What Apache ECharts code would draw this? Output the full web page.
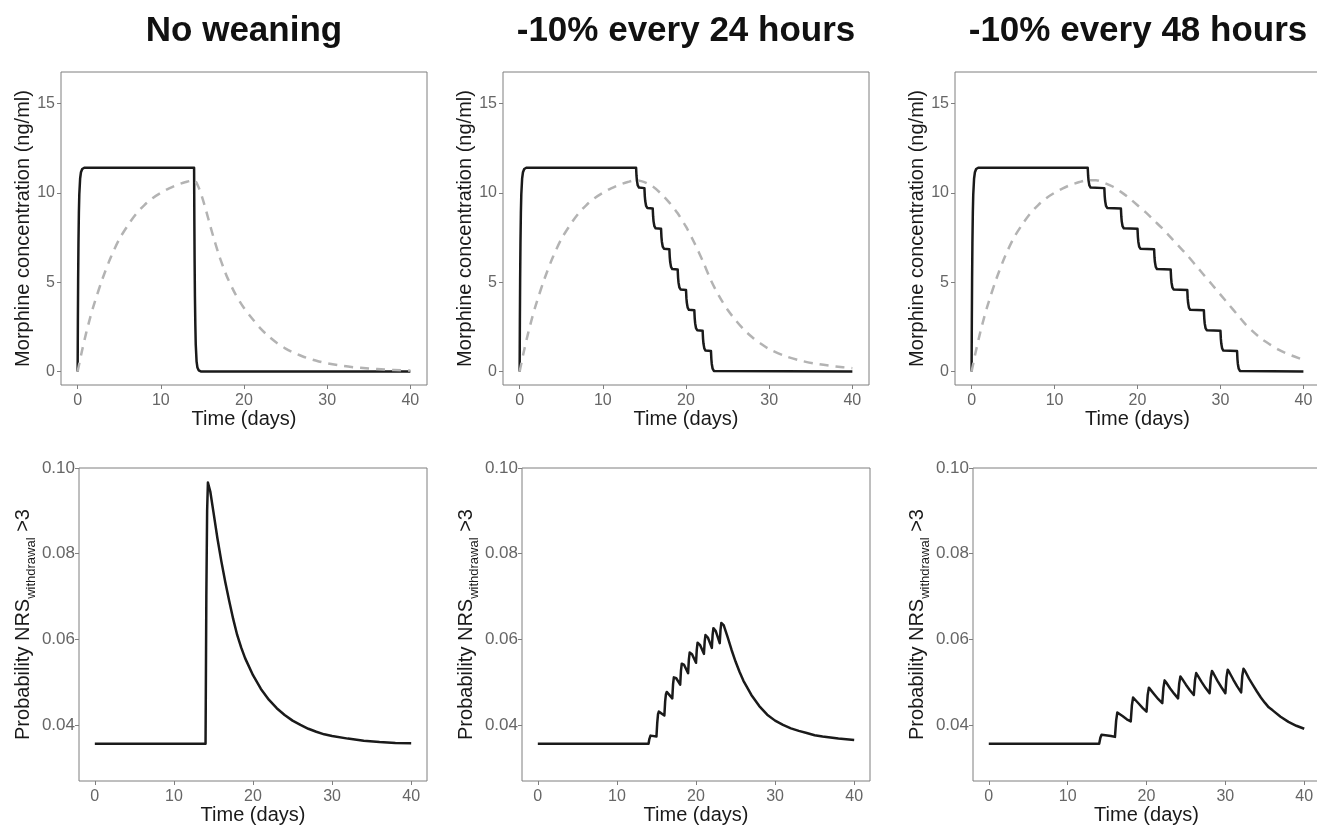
<!DOCTYPE html>
<html>
<head>
<meta charset="utf-8">
<title>Morphine weaning</title>
<script src="https://cdn.jsdelivr.net/npm/echarts@6/dist/echarts.min.js"></script>
<style>
  html, body { margin: 0; padding: 0; background: #fff; }
  #chart { width: 1317px; height: 828px; }
</style>
</head>
<body>
<div id="chart"></div>
<script>
var titles = ['No weaning', '-10% every 24 hours', '-10% every 48 hours'];
var xTicks = [0, 10, 20, 30, 40];
var concTicks = [0, 5, 10, 15];
var probTicks = [0.04, 0.06, 0.08, 0.10];

// plasma concentration (solid), same start for all three
var plasmaRise = [[0, 0], [0.03, 2.9], [0.06, 5.1], [0.1, 7.2], [0.15, 8.9], [0.2, 9.9], [0.3, 10.8],
  [0.4, 11.15], [0.55, 11.33], [0.8, 11.4], [14, 11.4]];
var plasmaNoWean = [[14.03, 8.5], [14.06, 6.3], [14.1, 4.2], [14.15, 2.6], [14.2, 1.5], [14.3, 0.55],
  [14.4, 0.22], [14.55, 0.06], [14.8, 0], [40, 0]];
var plasma24h = [
  [14.05, 10.94], [14.1, 10.68], [14.2, 10.41], [14.35, 10.29], [14.55, 10.26], [15, 10.26],
  [15.05, 9.80], [15.1, 9.54], [15.2, 9.27], [15.35, 9.15], [15.55, 9.12], [16, 9.12],
  [16.05, 8.66], [16.1, 8.40], [16.2, 8.13], [16.35, 8.01], [16.55, 7.98], [17, 7.98],
  [17.05, 7.52], [17.1, 7.26], [17.2, 6.99], [17.35, 6.87], [17.55, 6.84], [18, 6.84],
  [18.05, 6.38], [18.1, 6.12], [18.2, 5.85], [18.35, 5.73], [18.55, 5.70], [19, 5.70],
  [19.05, 5.24], [19.1, 4.98], [19.2, 4.71], [19.35, 4.59], [19.55, 4.56], [20, 4.56],
  [20.05, 4.10], [20.1, 3.84], [20.2, 3.57], [20.35, 3.45], [20.55, 3.42], [21, 3.42],
  [21.05, 2.96], [21.1, 2.70], [21.2, 2.43], [21.35, 2.31], [21.55, 2.28], [22, 2.28],
  [22.05, 1.82], [22.1, 1.56], [22.2, 1.29], [22.35, 1.17], [22.55, 1.14], [23, 1.14],
  [23.05, 0.68], [23.1, 0.42], [23.2, 0.15], [23.35, 0.03], [23.55, 0], [40, 0]];
var plasma48h = [
  [14.05, 10.94], [14.1, 10.68], [14.2, 10.41], [14.35, 10.29], [14.55, 10.26], [16, 10.26],
  [16.05, 9.80], [16.1, 9.54], [16.2, 9.27], [16.35, 9.15], [16.55, 9.12], [18, 9.12],
  [18.05, 8.66], [18.1, 8.40], [18.2, 8.13], [18.35, 8.01], [18.55, 7.98], [20, 7.98],
  [20.05, 7.52], [20.1, 7.26], [20.2, 6.99], [20.35, 6.87], [20.55, 6.84], [22, 6.84],
  [22.05, 6.38], [22.1, 6.12], [22.2, 5.85], [22.35, 5.73], [22.55, 5.70], [24, 5.70],
  [24.05, 5.24], [24.1, 4.98], [24.2, 4.71], [24.35, 4.59], [24.55, 4.56], [26, 4.56],
  [26.05, 4.10], [26.1, 3.84], [26.2, 3.57], [26.35, 3.45], [26.55, 3.42], [28, 3.42],
  [28.05, 2.96], [28.1, 2.70], [28.2, 2.43], [28.35, 2.31], [28.55, 2.28], [30, 2.28],
  [30.05, 1.82], [30.1, 1.56], [30.2, 1.29], [30.35, 1.17], [30.55, 1.14], [32, 1.14],
  [32.05, 0.68], [32.1, 0.42], [32.2, 0.15], [32.35, 0.03], [32.55, 0], [40, 0]];

// effect-site concentration (dashed grey)
var effectRise = [[0, 0], [0.5, 1.1], [1, 2.1], [1.5, 3.0], [2, 3.8], [3, 5.2], [4, 6.4], [5, 7.4],
  [6, 8.15], [7, 8.8], [8, 9.3], [9, 9.7], [10, 10.0], [11, 10.25], [12, 10.45], [13, 10.6], [14, 10.7]];
var effectNoWean = [[14.5, 10.35], [15, 9.7], [15.5, 8.9], [16, 8.05], [16.5, 7.25], [17, 6.5],
  [17.5, 5.85], [18, 5.25], [19, 4.3], [20, 3.55], [21, 2.95], [22, 2.4], [23, 1.95], [24, 1.58],
  [25, 1.28], [26, 1.04], [27, 0.85], [28, 0.69], [29, 0.56], [30, 0.45], [32, 0.3], [34, 0.2],
  [36, 0.13], [38, 0.08], [40, 0.05]];
var effect24h = [[15, 10.6], [16, 10.35], [17, 9.95], [18, 9.45], [19, 8.85], [20, 8.1], [21, 7.2],
  [22, 6.2], [23, 5.1], [24, 4.2], [25, 3.45], [26, 2.85], [27, 2.32], [28, 1.9], [29, 1.55],
  [30, 1.25], [32, 0.85], [34, 0.58], [36, 0.4], [38, 0.28], [40, 0.18]];
var effect48h = [[15, 10.7], [16, 10.55], [17, 10.35], [18, 10.05], [19, 9.7], [20, 9.3], [21, 8.9],
  [22, 8.45], [23, 8.0], [24, 7.5], [25, 7.0], [26, 6.5], [27, 5.95], [28, 5.4], [29, 4.85],
  [30, 4.3], [31, 3.75], [32, 3.2], [33, 2.65], [34, 2.2], [35, 1.8], [36, 1.5], [37, 1.22],
  [38, 1.0], [39, 0.82], [40, 0.65]];

// probability NRS withdrawal > 3
var probNoWean = [[0, 0.0356], [14, 0.0356], [14.1, 0.070], [14.2, 0.090], [14.3, 0.0966],
  [14.4, 0.0962], [14.6, 0.0945], [15, 0.0897], [15.5, 0.0836], [16, 0.0782], [16.5, 0.0733],
  [17, 0.0689], [17.5, 0.0647], [18, 0.0610], [18.5, 0.0581], [19, 0.0556], [20, 0.0516],
  [21, 0.0484], [22, 0.0459], [23, 0.0439], [24, 0.0423], [25, 0.0410], [26, 0.0400],
  [27, 0.0391], [28, 0.0384], [29, 0.0378], [30, 0.0374], [32, 0.0368], [34, 0.0363],
  [36, 0.0360], [38, 0.0358], [40, 0.0357]];
var prob24h = [[0, 0.0356], [14, 0.0356],
  [14.1, 0.0367], [14.25, 0.0375], [14.5, 0.0375], [15, 0.0373],
  [15.1, 0.0405], [15.2, 0.0425], [15.3, 0.0431], [15.5, 0.0429], [16, 0.0422],
  [16.1, 0.0455], [16.2, 0.0472], [16.3, 0.0477], [16.5, 0.0473], [17, 0.0462],
  [17.1, 0.0495], [17.2, 0.0511], [17.3, 0.0515], [17.5, 0.0509], [18, 0.0494],
  [18.1, 0.0527], [18.2, 0.0543], [18.3, 0.0547], [18.5, 0.0540], [19, 0.0521],
  [19.1, 0.0553], [19.2, 0.0569], [19.3, 0.0573], [19.5, 0.0565], [20, 0.0545],
  [20.1, 0.0576], [20.2, 0.0592], [20.3, 0.0596], [20.5, 0.0587], [21, 0.0566],
  [21.1, 0.0595], [21.2, 0.0610], [21.3, 0.0614], [21.5, 0.0604], [22, 0.0580],
  [22.1, 0.0610], [22.2, 0.0626], [22.3, 0.0630], [22.5, 0.0619], [23, 0.0591],
  [23.1, 0.0622], [23.2, 0.0638], [23.3, 0.0642], [23.5, 0.0633], [24, 0.0605], [24.5, 0.0575],
  [25, 0.0548], [25.5, 0.0524], [26, 0.0503], [27, 0.0470], [28, 0.0444], [29, 0.0424],
  [30, 0.0410], [31, 0.0400], [32, 0.0392], [33, 0.0386], [34, 0.0381], [35, 0.0376],
  [36, 0.0373], [38, 0.0368], [40, 0.0365]];
var prob48h = [[0, 0.0356], [14, 0.0356],
  [14.15, 0.0370], [14.3, 0.0377], [14.8, 0.0376], [15.5, 0.0374], [16, 0.0372],
  [16.15, 0.0410], [16.3, 0.0429], [16.5, 0.0427], [17, 0.0420], [17.5, 0.0413], [18, 0.0408],
  [18.15, 0.0446], [18.3, 0.0464], [18.5, 0.0461], [19, 0.0450], [19.5, 0.0440], [20, 0.0431],
  [20.15, 0.0470], [20.3, 0.0487], [20.5, 0.0483], [21, 0.0471], [21.5, 0.0460], [22, 0.0451],
  [22.15, 0.0487], [22.3, 0.0504], [22.5, 0.0499], [23, 0.0485], [23.5, 0.0473], [24, 0.0462],
  [24.15, 0.0497], [24.3, 0.0513], [24.5, 0.0508], [25, 0.0494], [25.5, 0.0481], [26, 0.0470],
  [26.15, 0.0505], [26.3, 0.0521], [26.5, 0.0515], [27, 0.0500], [27.5, 0.0486], [28, 0.0474],
  [28.15, 0.0510], [28.3, 0.0526], [28.5, 0.0520], [29, 0.0503], [29.5, 0.0488], [30, 0.0474],
  [30.15, 0.0512], [30.3, 0.0529], [30.5, 0.0523], [31, 0.0506], [31.5, 0.0490], [32, 0.0476],
  [32.15, 0.0515], [32.3, 0.0531], [32.5, 0.0526], [33, 0.0508], [33.5, 0.0493], [34, 0.0478],
  [34.5, 0.0464], [35, 0.0452], [35.5, 0.0441], [36, 0.0434], [37, 0.0419], [38, 0.0407],
  [39, 0.0398], [40, 0.0391]];

var FONT = 'Liberation Sans, Arial, sans-serif';
var BORDER = '#7f7f7f';
var INK = '#1a1a1a';
var TICK_INK = '#666666';

var topBoxes = [{ left: 61, width: 366 }, { left: 503, width: 366 }, { left: 955, width: 365 }];
var bottomBoxes = [{ left: 79, width: 348 }, { left: 522, width: 348 }, { left: 973, width: 347 }];
var titleX = [244, 686, 1138];

var plasma = [plasmaRise.concat(plasmaNoWean), plasmaRise.concat(plasma24h), plasmaRise.concat(plasma48h)];
var effect = [effectRise.concat(effectNoWean), effectRise.concat(effect24h), effectRise.concat(effect48h)];
var prob = [probNoWean, prob24h, prob48h];

var grids = [], xAxes = [], yAxes = [], series = [], graphics = [];

function xAxisFor(i) {
  return {
    gridIndex: i, type: 'value', min: -2, max: 42,
    axisLine: { show: false, onZero: false },
    axisTick: { show: true, length: 4, customValues: xTicks, lineStyle: { color: BORDER, width: 1 } },
    axisLabel: { customValues: xTicks, margin: 8, color: TICK_INK, fontSize: 16, fontFamily: FONT },
    splitLine: { show: false },
    name: 'Time (days)', nameLocation: 'middle', nameGap: 24,
    nameTextStyle: { fontSize: 20, color: INK, fontFamily: FONT }
  };
}

function lineSeries(i, data, color, dashed) {
  return {
    type: 'line', xAxisIndex: i, yAxisIndex: i, data: data,
    symbol: 'none', showSymbol: false, silent: true, smooth: dashed ? 0.3 : false,
    lineStyle: { color: color, width: 2.5, type: dashed ? [9, 7] : 'solid', cap: 'butt', join: 'round' }
  };
}

for (var i = 0; i < 3; i++) {
  // top row: concentrations
  grids.push({ left: topBoxes[i].left, width: topBoxes[i].width, top: 72, height: 313,
    show: true, borderColor: BORDER, borderWidth: 1, outerBoundsMode: 'none' });
  xAxes.push(xAxisFor(i));
  yAxes.push({
    gridIndex: i, type: 'value', min: -0.76, max: 16.76,
    axisLine: { show: false, onZero: false },
    axisTick: { show: true, length: 4, customValues: concTicks, lineStyle: { color: BORDER, width: 1 } },
    axisLabel: { customValues: concTicks, margin: 6, color: TICK_INK, fontSize: 16, fontFamily: FONT },
    splitLine: { show: false },
    name: 'Morphine concentration (ng/ml)', nameLocation: 'middle', nameRotate: 90, nameGap: 28,
    nameTextStyle: { fontSize: 20, color: INK, fontFamily: FONT }
  });
  series.push(lineSeries(i, plasma[i], INK, false));
  series.push(lineSeries(i, effect[i], '#b3b3b3', true));

  graphics.push({
    type: 'text', x: titleX[i], y: 31, silent: true,
    style: { text: titles[i], font: 'bold 35px ' + FONT, fill: '#111111',
      align: 'center', verticalAlign: 'middle', textAlign: 'center', textVerticalAlign: 'middle' }
  });
}

for (var j = 0; j < 3; j++) {
  // bottom row: withdrawal probability
  var k = j + 3;
  grids.push({ left: bottomBoxes[j].left, width: bottomBoxes[j].width, top: 468, height: 313,
    show: true, borderColor: BORDER, borderWidth: 1, outerBoundsMode: 'none' });
  xAxes.push(xAxisFor(k));
  yAxes.push({
    gridIndex: k, type: 'value', min: 0.0269, max: 0.10,
    axisLine: { show: false, onZero: false },
    axisTick: { show: true, length: 4, customValues: probTicks, lineStyle: { color: BORDER, width: 1 } },
    axisLabel: { customValues: probTicks, margin: 4, color: TICK_INK, fontSize: 17, fontFamily: FONT,
      formatter: function (v) { return v.toFixed(2); } },
    splitLine: { show: false },
    name: '{a|Probability NRS}{b|withdrawal}{a| >3}', nameLocation: 'middle', nameRotate: 90, nameGap: 40,
    nameTextStyle: {
      rich: {
        a: { fontSize: 20, lineHeight: 30, color: INK, fontFamily: FONT, verticalAlign: 'middle' },
        b: { fontSize: 13, lineHeight: 13, color: INK, fontFamily: FONT, verticalAlign: 'bottom' }
      }
    }
  });
  series.push(lineSeries(k, prob[j], INK, false));
}

var chart = echarts.init(document.getElementById('chart'), null, { renderer: 'canvas' });
chart.setOption({
  backgroundColor: '#ffffff',
  animation: false,
  grid: grids,
  xAxis: xAxes,
  yAxis: yAxes,
  series: series,
  graphic: graphics
});
</script>
</body>
</html>
